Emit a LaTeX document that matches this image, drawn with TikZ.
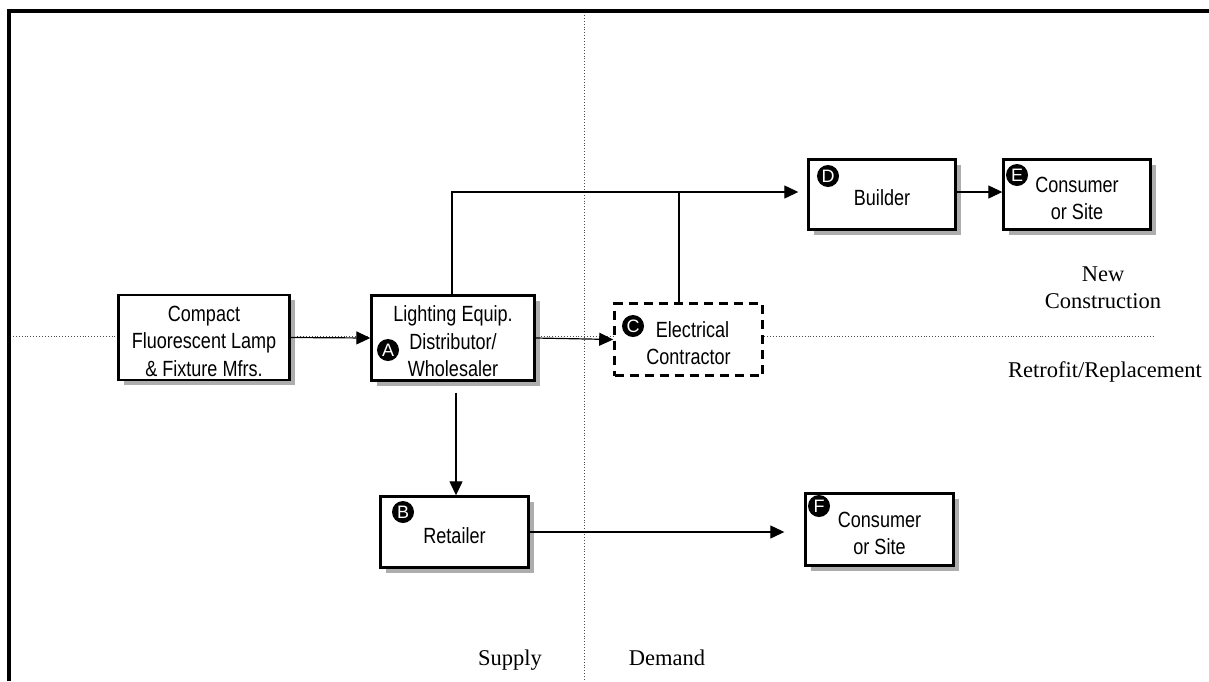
\documentclass[tikz,border=0pt]{standalone}
\usepackage{fontspec}
\setmainfont{Liberation Serif}
\newfontfamily\boxfont[FakeStretch=0.82]{Liberation Sans}
\newfontfamily\badgefont{Liberation Sans}
\usetikzlibrary{arrows.meta,shadows,calc}

% taller first line, so the box text sits a little low
\newcommand{\topstrut}{\rule{0pt}{23pt}}

\tikzset{
  boxtext/.style={align=center, inner sep=0pt,
    font=\boxfont\fontsize{22}{27.5}\selectfont},
  flowbox/.style={boxtext, draw=black, line width=2.4pt, fill=white,
    drop shadow={shadow xshift=5pt, shadow yshift=-5pt, fill=black!32, opacity=1}},
  dashbox/.style={boxtext, draw=black, line width=2.6pt, dash pattern=on 9pt off 6pt,
    fill=white},
  badge/.style={circle, fill=black, text=white, inner sep=0pt, minimum size=22pt,
    font=\badgefont\fontsize{18}{18}\selectfont},
  link/.style={line width=1.2pt, draw=black},
  flow/.style={link, -{Triangle[length=14pt,width=13pt]}},
  divider/.style={line width=0.9pt, draw=black!70, dotted},
  label/.style={font=\fontsize{22.5}{27}\selectfont, align=center, inner sep=0pt}
}

\begin{document}
\begin{tikzpicture}[x=1pt, y=-1pt]
  \useasboundingbox (0,0) rectangle (1209,681);

  % supply / demand and new / retrofit dividers
  \draw[divider] (584,12) -- (584,681);
  \draw[divider] (10,336) -- (1154,336);

  % outer frame (top and left edges)
  \draw[line width=4pt] (9,681) -- (9,11) -- (1209,11);

  % boxes
  \node[flowbox, minimum width=171pt, minimum height=85pt] (mfr) at (204,337.5)
    {\topstrut Compact\\Fluorescent Lamp\\\& Fixture Mfrs.};
  \node[flowbox, minimum width=163pt, minimum height=85pt] (dist) at (453,338)
    {\topstrut Lighting Equip.\\Distributor/\\Wholesaler};
  \node[dashbox, minimum width=148pt, minimum height=72pt] (elec) at (688.5,339.5)
    {\topstrut\hspace*{8pt}Electrical\\Contractor};
  \node[flowbox, minimum width=147pt, minimum height=70pt] (build) at (882,194.5)
    {\topstrut Builder};
  \node[flowbox, minimum width=147pt, minimum height=70pt] (consE) at (1077,194.5)
    {\topstrut Consumer\\or Site};
  \node[flowbox, minimum width=148pt, minimum height=71pt] (retail) at (454.5,532)
    {\topstrut Retailer};
  \node[flowbox, minimum width=148pt, minimum height=72pt] (consF) at (879.5,529.5)
    {\topstrut Consumer\\or Site};

  % letter badges
  \node[badge] (bA) at (388,350) {A};
  \node[badge] (bB) at (403,512) {B};
  \node[badge] (bC) at (633,326) {C};
  \node[badge] (bD) at (828,176) {D};
  \node[badge] (bE) at (1017,175) {E};
  \node[badge] (bF) at (819,506) {F};

  % connectors
  \coordinate (top) at (452,192);
  \coordinate (join) at (679,192);
  \draw[flow] (mfr.east) -- (dist.west);
  \draw[flow] (dist.east) -- (elec.west);
  \draw[flow, shorten >=9pt] ([xshift=-1pt]dist.north) -- (top) -- (top -| build.west);
  \draw[link] (elec.north -| join) -- (join);
  \draw[flow] (build.east |- top) -- (consE.west |- top);
  \draw[flow, shorten <=11pt] ([xshift=3pt]dist.south) -- ([xshift=3pt]dist.south |- retail.north);
  \draw[flow, shorten >=20pt] (retail.east) -- (retail.east -| consF.west);

  % region labels
  \node[label, anchor=base] (supply) at (510,665) {Supply};
  \node[label, anchor=base] (demand) at (667,665) {Demand};
  \node[label, anchor=base] (newc) at (1103,308) {New\\Construction};
  \node[label, anchor=base] (retro) at (1105,377) {Retrofit/Replacement};
\end{tikzpicture}
\end{document}
